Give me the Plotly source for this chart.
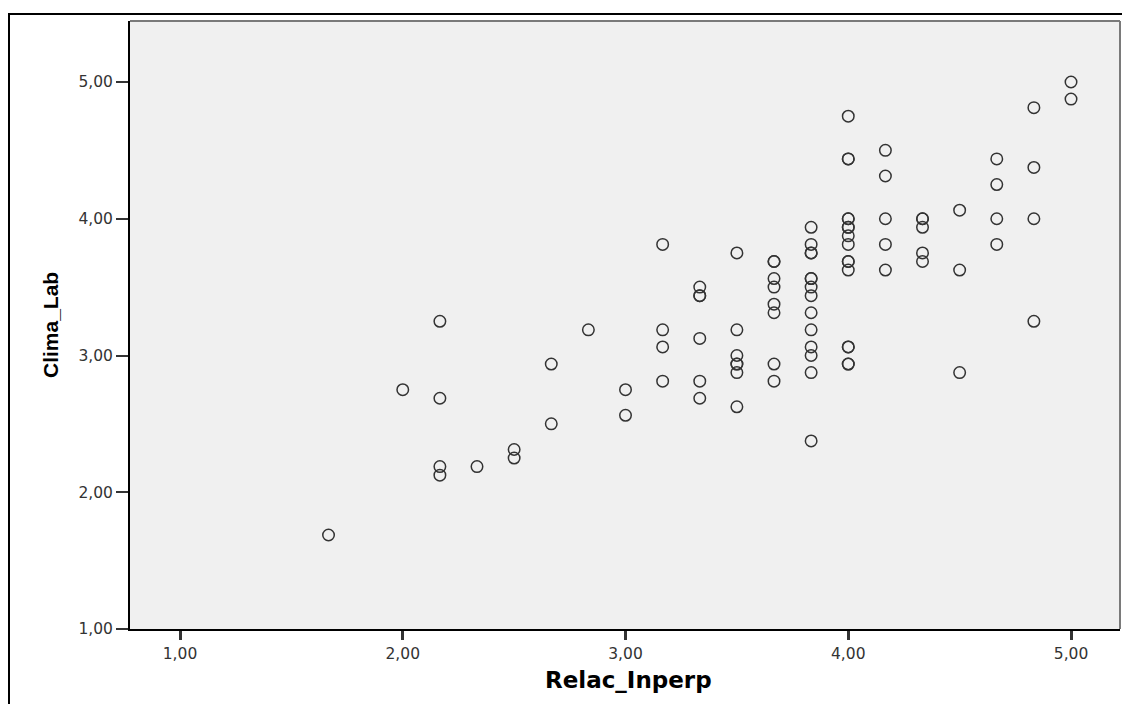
import plotly.graph_objects as go

# ---- data ----
x_cols = [1.6667, 2.0, 2.1667, 2.3333, 2.5, 2.6667, 2.8333, 3.0, 3.1667, 3.3333,
          3.5, 3.6667, 3.8333, 4.0, 4.1667, 4.3333, 4.5, 4.6667, 4.8333, 5.0]
y_by_col = [
    [1.6875],
    [2.75],
    [3.25, 2.6875, 2.1875, 2.125],
    [2.1875],
    [2.3125, 2.25],
    [2.9375, 2.5],
    [3.1875],
    [2.75, 2.5625],
    [3.8125, 3.1875, 3.0625, 2.8125],
    [3.5, 3.4375, 3.4375, 3.125, 2.8125, 2.6875],
    [3.75, 3.1875, 3.0, 2.9375, 2.9375, 2.875, 2.625],
    [3.6875, 3.6875, 3.5625, 3.5, 3.375, 3.3125, 2.9375, 2.8125],
    [3.9375, 3.8125, 3.75, 3.75, 3.5625, 3.5625, 3.5, 3.4375, 3.3125, 3.1875,
     3.0625, 3.0, 2.875, 2.375],
    [4.75, 4.4375, 4.4375, 4.0, 4.0, 3.9375, 3.9375, 3.875, 3.8125, 3.6875,
     3.6875, 3.625, 3.0625, 3.0625, 2.9375, 2.9375],
    [4.5, 4.3125, 4.0, 3.8125, 3.625],
    [4.0, 4.0, 3.9375, 3.75, 3.6875],
    [4.0625, 3.625, 2.875],
    [4.4375, 4.25, 4.0, 3.8125],
    [4.8125, 4.375, 4.0, 3.25],
    [5.0, 4.875],
]
relac_inperp = [x for x, ys in zip(x_cols, y_by_col) for _ in ys]
clima_lab = [y for ys in y_by_col for y in ys]

tick_vals = [1, 2, 3, 4, 5]
tick_text = ["1,00", "2,00", "3,00", "4,00", "5,00"]
x_title = "Relac_Inperp"
y_title = "Clima_Lab"

# ---- figure ----
fig = go.Figure()
fig.add_trace(go.Scatter(
    x=relac_inperp, y=clima_lab, mode="markers",
    marker=dict(symbol="circle-open", size=11.5, color="#333333",
                line=dict(width=1.5, color="#333333")),
    showlegend=False, hoverinfo="x+y",
))

tickfont = dict(family="DejaVu Sans", size=15.5, color="#333333")
fig.update_xaxes(
    range=[0.7755, 5.2199], tickvals=tick_vals, ticktext=tick_text,
    ticks="outside", ticklen=9, tickwidth=2.5, tickcolor="#333333",
    showline=True, linecolor="#000000", linewidth=2,
    showgrid=False, zeroline=False, tickfont=tickfont,
)
fig.update_yaxes(
    range=[1.0, 5.446], tickvals=tick_vals, ticktext=tick_text,
    ticks="outside", ticklen=12, tickwidth=1.5, tickcolor="#333333",
    showline=True, linecolor="#000000", linewidth=2,
    showgrid=False, zeroline=False, tickfont=tickfont,
)

L, R, T, B = 130, 2, 21, 75
W, H = 1122, 704
pw, ph = W - L - R, H - T - B

def px_x(p):
    return (p - L) / pw

def px_y(p):
    return (H - B - p) / ph

shapes = [
    # top and right frame of plot area (grey)
    dict(type="line", xref="paper", yref="paper", x0=0, x1=1, y0=1, y1=1,
         line=dict(color="#7a7a7a", width=2)),
    dict(type="line", xref="paper", yref="paper", x0=1, x1=1, y0=0, y1=1,
         line=dict(color="#7a7a7a", width=2)),
    # outer chart frame (cropped at right and bottom)
    dict(type="rect", xref="paper", yref="paper",
         x0=px_x(9), x1=px_x(1140), y0=px_y(720), y1=px_y(14),
         line=dict(color="#000000", width=2), fillcolor="rgba(0,0,0,0)"),
]

annotations = [
    dict(text=x_title, xref="paper", yref="paper", x=px_x(628), y=px_y(680),
         xanchor="center", yanchor="middle", showarrow=False,
         font=dict(family="DejaVu Sans", size=23, color="#000000", weight="bold")),
    dict(text=y_title, xref="paper", yref="paper", x=px_x(50), y=px_y(325),
         xanchor="center", yanchor="middle", showarrow=False, textangle=-90,
         font=dict(family="Liberation Sans", size=21, color="#000000", weight="bold")),
]

fig.update_layout(
    width=W, height=H,
    margin=dict(l=L, r=R, t=T, b=B, pad=0),
    paper_bgcolor="#ffffff", plot_bgcolor="#f0f0f0",
    shapes=shapes, annotations=annotations,
    showlegend=False,
)

fig.write_html("out.html", config={"displayModeBar": False})
